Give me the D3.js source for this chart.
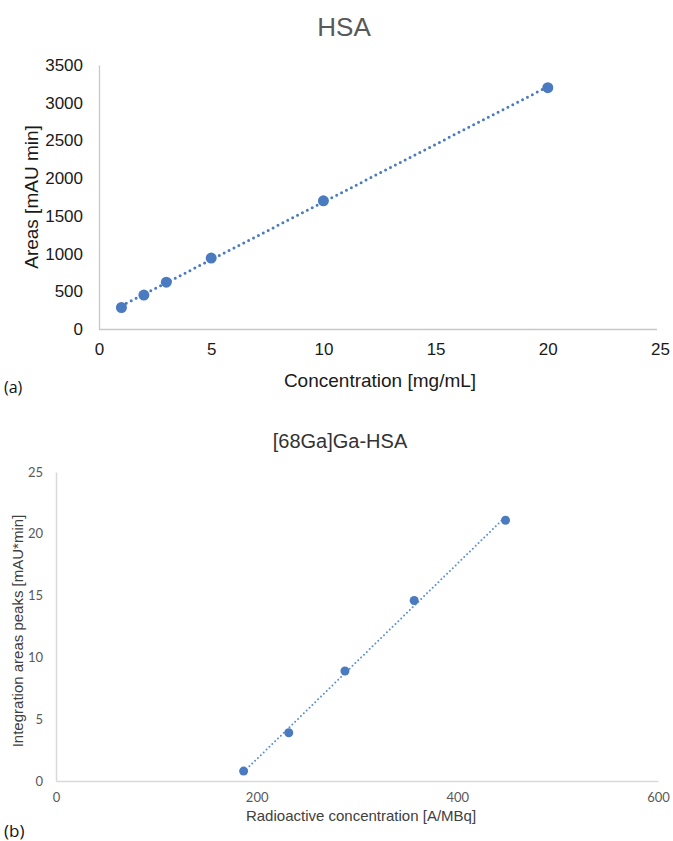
<!DOCTYPE html>
<html>
<head>
<meta charset="utf-8">
<script src="https://cdn.jsdelivr.net/npm/d3@7"></script>
<style>
  body { margin: 0; background: #fff; }
  svg { display: block; }
</style>
</head>
<body>
<div class="chart"></div>
<script>
// (a) HSA calibration
var hsaConc = [1, 2, 3, 5, 10, 20];
var hsaArea = [285, 450, 620, 940, 1700, 3200];
var hsaXTicks = [0, 5, 10, 15, 20, 25];
var hsaYTicks = [0, 500, 1000, 1500, 2000, 2500, 3000, 3500];

// (b) [68Ga]Ga-HSA calibration
var gaConc = [187, 232, 288, 357, 448];
var gaArea = [0.8, 3.9, 8.9, 14.6, 21.1];
var gaXTicks = [0, 200, 400, 600];
var gaYTicks = [0, 5, 10, 15, 20, 25];

var svgWidth = 673;
var svgHeight = 841;
var blue = "#4a7bc0";
var plain = d3.format("d");

var svg = d3.select(".chart")
  .append("svg")
  .attr("width", svgWidth)
  .attr("height", svgHeight);

// least squares line through the points
function fit(xs, ys) {
  var mx = d3.mean(xs), my = d3.mean(ys);
  var sxy = d3.sum(xs, (x, i) => (x - mx) * (ys[i] - my));
  var sxx = d3.sum(xs, x => (x - mx) * (x - mx));
  var slope = sxy / sxx;
  return x => my + slope * (x - mx);
}

// ---------- chart (a) ----------
var xA = d3.scaleLinear().domain([0, 25]).range([99, 660]);
var yA = d3.scaleLinear().domain([0, 3500]).range([329, 65]);

var gA = svg.append("g");

gA.append("g")
  .attr("transform", "translate(0, 329)")
  .call(d3.axisBottom(xA).tickValues(hsaXTicks).tickFormat(plain).tickSize(0).tickPadding(14))
  .call(g => g.select(".domain").attr("stroke", "#c8c8c8").attr("stroke-width", 1.3).attr("d", "M99,0.5H657"))
  .selectAll("text")
  .attr("font-family", "Liberation Sans, Arial, sans-serif")
  .attr("font-size", 17)
  .attr("fill", "#1a1a1a");

gA.append("g")
  .attr("transform", "translate(99, 0)")
  .call(d3.axisLeft(yA).tickValues(hsaYTicks).tickFormat(plain).tickSize(0).tickPadding(16))
  .call(g => g.select(".domain").attr("stroke", "#c8c8c8").attr("stroke-width", 1.3))
  .selectAll("text")
  .attr("font-family", "Liberation Sans, Arial, sans-serif")
  .attr("font-size", 17)
  .attr("fill", "#1a1a1a");

var lineA = fit(hsaConc, hsaArea);
var xExtA = d3.extent(hsaConc);
gA.append("path")
  .datum(xExtA)
  .attr("d", d3.line().x(d => xA(d)).y(d => yA(lineA(d))))
  .attr("fill", "none")
  .attr("stroke", blue)
  .attr("stroke-width", 3)
  .attr("stroke-linecap", "round")
  .attr("stroke-dasharray", "0 5.5");

gA.selectAll("circle")
  .data(hsaConc)
  .enter()
  .append("circle")
  .attr("cx", d => xA(d))
  .attr("cy", (d, i) => yA(hsaArea[i]))
  .attr("r", 5.5)
  .attr("fill", blue);

gA.append("text")
  .attr("x", 344)
  .attr("y", 36)
  .attr("text-anchor", "middle")
  .attr("font-family", "Liberation Sans, Arial, sans-serif")
  .attr("font-size", 26)
  .attr("fill", "#595959")
  .text("HSA");

gA.append("text")
  .attr("x", 380)
  .attr("y", 387)
  .attr("text-anchor", "middle")
  .attr("font-family", "Liberation Sans, Arial, sans-serif")
  .attr("font-size", 19)
  .attr("fill", "#1a1a1a")
  .text("Concentration [mg/mL]");

gA.append("text")
  .attr("transform", "translate(31, 197) rotate(-90)")
  .attr("dy", "0.35em")
  .attr("text-anchor", "middle")
  .attr("font-family", "Liberation Sans, Arial, sans-serif")
  .attr("font-size", 19)
  .attr("fill", "#1a1a1a")
  .text("Areas [mAU min]");

gA.append("text")
  .attr("x", 4)
  .attr("y", 393)
  .attr("font-family", "Open Sans, sans-serif")
  .attr("font-size", 16)
  .attr("fill", "#111")
  .text("(a)");

// ---------- chart (b) ----------
var xB = d3.scaleLinear().domain([0, 600]).range([56, 658]);
var yB = d3.scaleLinear().domain([0, 25]).range([781, 472]);

var gB = svg.append("g");

gB.append("g")
  .attr("transform", "translate(0, 781)")
  .call(d3.axisBottom(xB).tickValues(gaXTicks).tickFormat(plain).tickSize(0).tickPadding(12))
  .call(g => g.select(".domain").attr("stroke", "#d9d9d9").attr("stroke-width", 1.5))
  .selectAll("text")
  .attr("font-family", "Lato, sans-serif")
  .attr("font-size", 13)
  .attr("fill", "#595959");

gB.append("g")
  .attr("transform", "translate(56, 0)")
  .call(d3.axisLeft(yB).tickValues(gaYTicks).tickFormat(plain).tickSize(0).tickPadding(13))
  .call(g => g.select(".domain").attr("stroke", "#d9d9d9").attr("stroke-width", 1.5))
  .selectAll("text")
  .attr("font-family", "Lato, sans-serif")
  .attr("font-size", 13)
  .attr("fill", "#595959");

var lineB = fit(gaConc, gaArea);
var xExtB = d3.extent(gaConc);
gB.append("path")
  .datum(xExtB)
  .attr("d", d3.line().x(d => xB(d)).y(d => yB(lineB(d))))
  .attr("fill", "none")
  .attr("stroke", "#5b8fd0")
  .attr("stroke-width", 2)
  .attr("stroke-linecap", "round")
  .attr("stroke-dasharray", "0 4");

gB.selectAll("circle")
  .data(gaConc)
  .enter()
  .append("circle")
  .attr("cx", d => xB(d))
  .attr("cy", (d, i) => yB(gaArea[i]))
  .attr("r", 4.5)
  .attr("fill", blue);

gB.append("text")
  .attr("x", 340)
  .attr("y", 448)
  .attr("text-anchor", "middle")
  .attr("font-family", "Liberation Sans, Arial, sans-serif")
  .attr("font-size", 20)
  .attr("fill", "#333")
  .text("[68Ga]Ga-HSA");

gB.append("text")
  .attr("x", 361)
  .attr("y", 821)
  .attr("text-anchor", "middle")
  .attr("font-family", "Liberation Sans, Arial, sans-serif")
  .attr("font-size", 15)
  .attr("fill", "#404040")
  .text("Radioactive concentration [A/MBq]");

gB.append("text")
  .attr("transform", "translate(18, 631) rotate(-90)")
  .attr("dy", "0.35em")
  .attr("text-anchor", "middle")
  .attr("font-family", "Liberation Sans, Arial, sans-serif")
  .attr("font-size", 15)
  .attr("fill", "#404040")
  .text("Integration areas peaks [mAU*min]");

gB.append("text")
  .attr("x", 4)
  .attr("y", 837)
  .attr("font-family", "Open Sans, sans-serif")
  .attr("font-size", 17)
  .attr("fill", "#111")
  .text("(b)");
</script>
</body>
</html>
